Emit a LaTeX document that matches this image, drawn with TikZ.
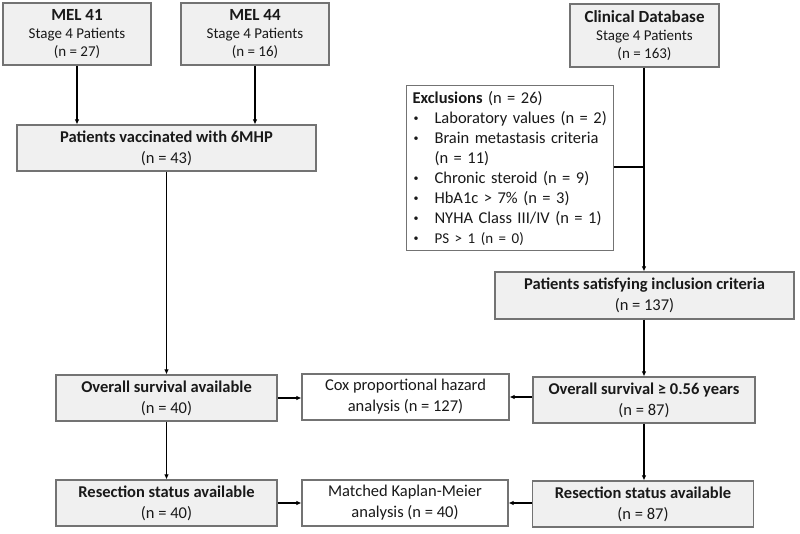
\documentclass[tikz,border=0pt]{standalone}
\usepackage{fontspec}
\setmainfont{Carlito}
\usetikzlibrary{arrows.meta}
\newcommand{\blt}{\makebox[22pt][l]{\hspace{1pt}\raisebox{1.5pt}{\fontsize{10}{10}\selectfont\textbullet}}}
\begin{document}
\begin{tikzpicture}[x=1pt,y=-1pt,
  box/.style={draw=black!55, line width=1.1pt, fill=black!6, align=center, inner sep=0pt,
    font=\fontsize{16.5}{21}\selectfont, text=black!90},
  wbox/.style={box, fill=white},
  topbox/.style={box, minimum width=148pt, minimum height=62pt, font=\fontsize{15}{18}\selectfont},
  arr/.style={line width=1.2pt, -{Latex[length=5pt,width=4.5pt]}},
  ln/.style={line width=1.2pt}]
\useasboundingbox (0,0) rectangle (800,534);
\node[topbox] (mel41) at (77,34) {\textbf{\fontsize{17}{18}\selectfont MEL 41}\\Stage 4 Patients\\(n = 27)};
\node[topbox] (mel44) at (255,34) {\textbf{\fontsize{17}{18}\selectfont MEL 44}\\Stage 4 Patients\\(n = 16)};
\node[topbox, minimum width=149pt, minimum height=63pt] (clin) at (644.5,35.5) {\textbf{\fontsize{17}{18}\selectfont Clinical Database}\\Stage 4 Patients\\(n = 163)};
\node[box, minimum width=299pt, minimum height=46pt] (vacc) at (166.5,148) {\textbf{Patients vaccinated with 6MHP}\\(n = 43)};
\node[wbox, anchor=north west, minimum width=207pt, minimum height=165pt, align=left, text width=195pt, inner xsep=6pt,
  font=\fontsize{16.5}{20}\selectfont] (excl) at (406,85) {%
\textbf{Exclusions} (n = 26)\\
\blt Laboratory values (n = 2)\\
\blt Brain metastasis criteria\\
\hspace*{22pt}(n = 11)\\
\blt Chronic steroid (n = 9)\\
\blt HbA1c > 7\% (n = 3)\\
\blt NYHA Class III/IV (n = 1)\\
\blt {\fontsize{15}{20}\selectfont PS > 1 (n = 0)}};
\node[box, minimum width=299pt, minimum height=47pt] (incl) at (644.5,295.5) {\textbf{Patients satisfying inclusion criteria}\\(n = 137)};
\node[box, minimum width=221pt, minimum height=46pt] (os1) at (166.5,398) {\textbf{Overall survival available}\\(n = 40)};
\node[wbox, minimum width=207pt, minimum height=46pt] (cox) at (405.5,397) {Cox proportional hazard\\analysis (n = 127)};
\node[box, minimum width=222pt, minimum height=46pt] (os2) at (644,400) {\textbf{Overall survival ≥ 0.56 years}\\(n = 87)};
\node[box, minimum width=221pt, minimum height=46pt] (res1) at (166.5,503) {\textbf{Resection status available}\\(n = 40)};
\node[wbox, minimum width=206pt, minimum height=46pt] (match) at (405,503) {Matched Kaplan-Meier\\analysis (n = 40)};
\node[box, minimum width=221pt, minimum height=46pt] (res2) at (643,504) {\textbf{Resection status available}\\(n = 87)};
\coordinate (j) at (644,167);
\draw[arr] (mel41.south) -- (mel41.south |- vacc.north);
\draw[arr] (mel44.south) -- (mel44.south |- vacc.north);
\draw[arr] (vacc.south) -- (vacc.south |- os1.north);
\draw[arr] (clin.south -| j) -- (incl.north -| j);
\draw[ln] (excl.east |- j) -- (j);
\draw[arr] (incl.south -| j) -- (os2.north -| j);
\draw[arr] (os1.east) -- (cox.west |- os1.east);
\draw[arr] (os2.west |- cox.east) -- (cox.east);
\draw[arr] (os1.south) -- (res1.north);
\draw[arr] (os2.south -| j) -- (res2.north -| j);
\draw[arr] (res1.east) -- (match.west |- res1.east);
\draw[arr] (res2.west |- match.east) -- (match.east);
\end{tikzpicture}
\end{document}
